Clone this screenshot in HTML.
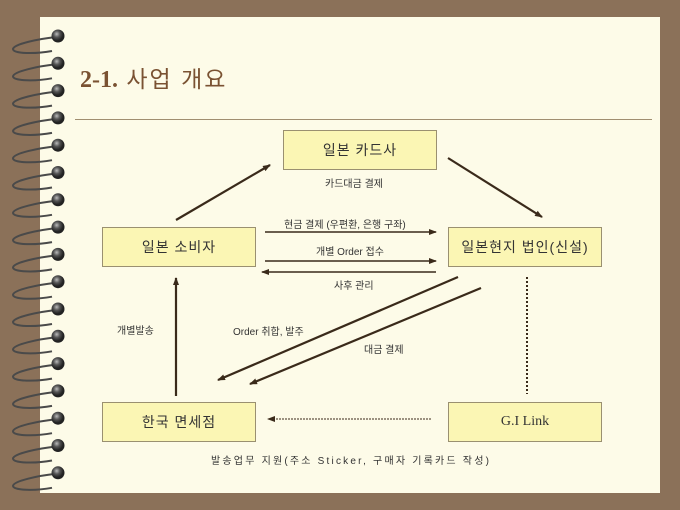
<!DOCTYPE html>
<html><head><meta charset="utf-8"><style>
body{margin:0;width:680px;height:510px;background:#8b7159;position:relative;overflow:hidden;font-family:"Liberation Serif","Noto Sans CJK KR",serif}
.paper{position:absolute;left:40px;top:17px;width:620px;height:476px;background:#fdfbe8}
.box{position:absolute;background:#fbf6b4;border:1px solid #9a9070;box-sizing:border-box;display:flex;align-items:center;justify-content:center;font-family:"Liberation Sans","Noto Sans CJK KR",sans-serif;font-size:14px;color:#333;letter-spacing:1px}
.lbl{position:absolute;font-family:"Liberation Sans","Noto Sans CJK KR",sans-serif;font-size:10px;color:#333;white-space:nowrap}
</style></head><body>
<div class="paper"></div>
<div style="position:absolute;left:80px;top:60px;font-size:24px;color:#7a5232;font-weight:bold;font-family:'Liberation Serif',serif">2-1.<span style="font-weight:normal;font-family:'Liberation Sans','Noto Sans CJK KR',sans-serif;font-size:23px;letter-spacing:2px"> 사업 개요</span></div>
<div style="position:absolute;left:75px;top:119px;width:577px;height:1px;background:#a08e70"></div>
<svg width="680" height="510" style="position:absolute;left:0;top:0">
<defs><marker id="a" markerWidth="8" markerHeight="8" refX="7" refY="4" orient="auto" markerUnits="userSpaceOnUse"><path d="M0,1 L8,4 L0,7z" fill="#3a2a1a"/></marker></defs>
<g stroke="#3a2a1a" stroke-width="2.2" fill="none">
<line x1="176" y1="220" x2="270" y2="165" marker-end="url(#a)"/>
<line x1="448" y1="158" x2="542" y2="217" marker-end="url(#a)"/>
<line x1="265" y1="232" x2="436" y2="232" stroke-width="1.5" marker-end="url(#a)"/>
<line x1="265" y1="261" x2="436" y2="261" stroke-width="1.5" marker-end="url(#a)"/>
<line x1="436" y1="272" x2="262" y2="272" stroke-width="1.5" marker-end="url(#a)"/>
<line x1="176" y1="396" x2="176" y2="278" marker-end="url(#a)"/>
<line x1="458" y1="277" x2="218" y2="380" marker-end="url(#a)"/>
<line x1="481" y1="288" x2="250" y2="384" marker-end="url(#a)"/>
<line x1="527" y1="277" x2="527" y2="394" stroke-width="2" stroke-dasharray="2,2"/>
<line x1="431" y1="419" x2="268" y2="419" stroke-width="1" stroke-dasharray="2,1" marker-end="url(#a)"/>
</g>
</svg>
<div class="box" style="left:283px;top:130px;width:154px;height:40px">일본 카드사</div>
<div class="box" style="left:102px;top:227px;width:154px;height:40px">일본 소비자</div>
<div class="box" style="left:448px;top:227px;width:154px;height:40px">일본현지 법인(신설)</div>
<div class="box" style="left:102px;top:402px;width:154px;height:40px">한국 면세점</div>
<div class="box" style="left:448px;top:402px;width:154px;height:40px;font-family:'Liberation Serif',serif;letter-spacing:0">G.I Link</div>
<div class="lbl" style="left:325px;top:175px">카드대금 결제</div>
<div class="lbl" style="left:284px;top:216px">현금 결제 (우편환, 은행 구좌)</div>
<div class="lbl" style="left:316px;top:243px">개별 Order 접수</div>
<div class="lbl" style="left:334px;top:277px">사후 관리</div>
<div class="lbl" style="left:117px;top:322px">개별발송</div>
<div class="lbl" style="left:233px;top:323px">Order 취합, 발주</div>
<div class="lbl" style="left:364px;top:341px">대금 결제</div>
<div class="lbl" style="left:211px;top:452px;letter-spacing:2.2px">발송업무 지원(주소 Sticker, 구매자 기록카드 작성)</div>
<svg width="80" height="510" style="position:absolute;left:0;top:0">
<defs><radialGradient id="c" cx="40%" cy="35%"><stop offset="0" stop-color="#bbb"/><stop offset="0.5" stop-color="#555"/><stop offset="1" stop-color="#222"/></radialGradient></defs>
<g fill="none" stroke="#4a4a4a" stroke-width="2">
<path d="M56,37 C38,39 14,44 13,49 C13,54 36,54 52,51" transform="translate(0,0)"/>
<path d="M56,37 C38,39 14,44 13,49 C13,54 36,54 52,51" transform="translate(0,27.3)"/>
<path d="M56,37 C38,39 14,44 13,49 C13,54 36,54 52,51" transform="translate(0,54.6)"/>
<path d="M56,37 C38,39 14,44 13,49 C13,54 36,54 52,51" transform="translate(0,81.9)"/>
<path d="M56,37 C38,39 14,44 13,49 C13,54 36,54 52,51" transform="translate(0,109.2)"/>
<path d="M56,37 C38,39 14,44 13,49 C13,54 36,54 52,51" transform="translate(0,136.5)"/>
<path d="M56,37 C38,39 14,44 13,49 C13,54 36,54 52,51" transform="translate(0,163.8)"/>
<path d="M56,37 C38,39 14,44 13,49 C13,54 36,54 52,51" transform="translate(0,191.1)"/>
<path d="M56,37 C38,39 14,44 13,49 C13,54 36,54 52,51" transform="translate(0,218.4)"/>
<path d="M56,37 C38,39 14,44 13,49 C13,54 36,54 52,51" transform="translate(0,245.7)"/>
<path d="M56,37 C38,39 14,44 13,49 C13,54 36,54 52,51" transform="translate(0,273)"/>
<path d="M56,37 C38,39 14,44 13,49 C13,54 36,54 52,51" transform="translate(0,300.3)"/>
<path d="M56,37 C38,39 14,44 13,49 C13,54 36,54 52,51" transform="translate(0,327.6)"/>
<path d="M56,37 C38,39 14,44 13,49 C13,54 36,54 52,51" transform="translate(0,354.9)"/>
<path d="M56,37 C38,39 14,44 13,49 C13,54 36,54 52,51" transform="translate(0,382.2)"/>
<path d="M56,37 C38,39 14,44 13,49 C13,54 36,54 52,51" transform="translate(0,409.5)"/>
<path d="M56,37 C38,39 14,44 13,49 C13,54 36,54 52,51" transform="translate(0,436.8)"/>
</g>
<g fill="url(#c)">
<circle cx="58" cy="36" r="6.5"/><circle cx="58" cy="63.3" r="6.5"/><circle cx="58" cy="90.6" r="6.5"/><circle cx="58" cy="117.9" r="6.5"/><circle cx="58" cy="145.2" r="6.5"/><circle cx="58" cy="172.5" r="6.5"/><circle cx="58" cy="199.8" r="6.5"/><circle cx="58" cy="227.1" r="6.5"/><circle cx="58" cy="254.4" r="6.5"/><circle cx="58" cy="281.7" r="6.5"/><circle cx="58" cy="309" r="6.5"/><circle cx="58" cy="336.3" r="6.5"/><circle cx="58" cy="363.6" r="6.5"/><circle cx="58" cy="390.9" r="6.5"/><circle cx="58" cy="418.2" r="6.5"/><circle cx="58" cy="445.5" r="6.5"/><circle cx="58" cy="472.8" r="6.5"/>
</g>
</svg>
</body></html>
